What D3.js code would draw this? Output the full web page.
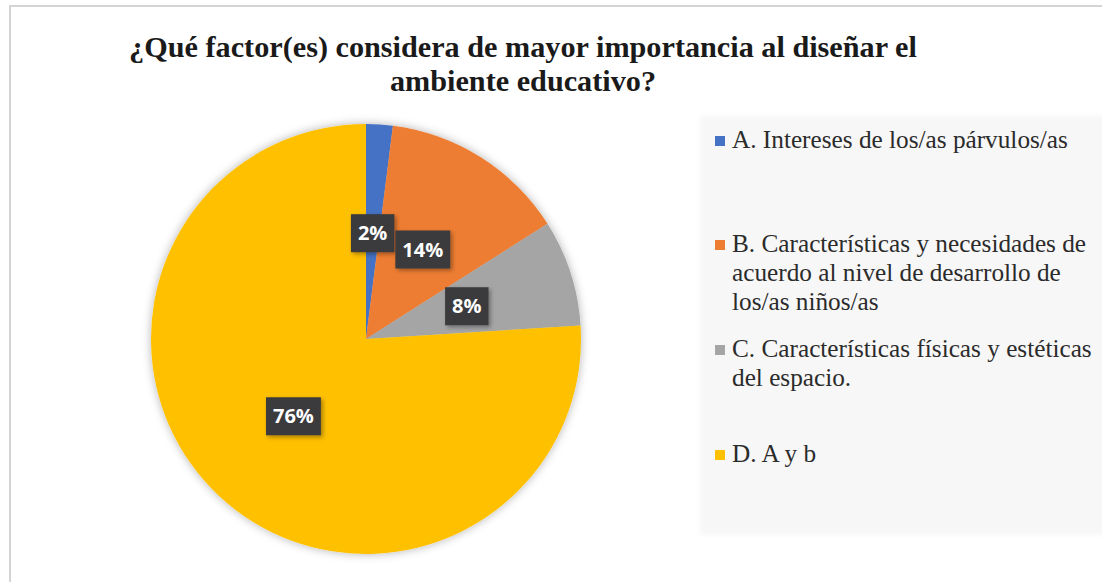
<!DOCTYPE html>
<html><head><meta charset="utf-8">
<script src="https://cdn.jsdelivr.net/npm/d3@7"></script>
<style>body{margin:0;background:#fff}svg{display:block}
.serif{font-family:"Liberation Serif","DejaVu Serif","Times New Roman",serif}</style>
</head><body>
<svg id="chart" width="1102" height="582"></svg>
<script>
const categories = ["A. Intereses de los/as párvulos/as",
  "B. Características y necesidades de acuerdo al nivel de desarrollo de los/as niños/as",
  "C. Características físicas y estéticas del espacio.",
  "D. A y b"];
const legendLines = [
  ["A. Intereses de los/as párvulos/as"],
  ["B. Características y necesidades de", "acuerdo al nivel de desarrollo de", "los/as niños/as"],
  ["C. Características físicas y estéticas", "del espacio."],
  ["D. A y b"]];
const values = [2, 14, 8, 76];
const colors = ["#4472C4", "#ED7D31", "#A5A5A5", "#FFC000"];
const titleLines = ["¿Qué factor(es) considera de mayor importancia al diseñar el", "ambiente educativo?"];

const svg = d3.select("#chart");
const defs = svg.append("defs");
const glow = defs.append("filter").attr("id","glow").attr("x","-20%").attr("y","-20%").attr("width","140%").attr("height","140%");
glow.append("feDropShadow").attr("dx",0).attr("dy",0).attr("stdDeviation",5).attr("flood-color","#000").attr("flood-opacity",0.3);
const lblShadow = defs.append("filter").attr("id","lblsh").attr("x","-30%").attr("y","-30%").attr("width","160%").attr("height","160%");
lblShadow.append("feDropShadow").attr("dx",2).attr("dy",2).attr("stdDeviation",2).attr("flood-color","#000").attr("flood-opacity",0.35);
const soft = defs.append("filter").attr("id","soft").attr("x","-5%").attr("y","-5%").attr("width","110%").attr("height","110%");
soft.append("feGaussianBlur").attr("stdDeviation",2);

// outer chart border
svg.append("rect").attr("x",10).attr("y",6).attr("width",1120).attr("height",600)
  .attr("fill","#fff").attr("stroke","#d4d4d4").attr("stroke-width",2);

// title
const title = svg.append("g");
title.selectAll("text").data(titleLines).join("text")
  .attr("class","serif")
  .attr("x",523).attr("y",(d,i)=>57 + i*34)
  .attr("text-anchor","middle")
  .attr("font-weight","bold").attr("font-size",27).attr("fill","#1a1a1a")
  .text(d=>d);
(function(){
  const t = title.select("text").node();
  const w = t.getComputedTextLength();
  const fs = 27*788/w;
  title.selectAll("text").attr("font-size",fs);
})();

// legend box
svg.append("rect").attr("x",700).attr("y",116).attr("width",420).attr("height",419)
  .attr("fill","#f7f7f7").attr("filter","url(#soft)");

// pie
const cx = 366, cy = 339, R = 215;
const pie = d3.pie().sort(null).value(d=>d);
const arcs = pie(values);
const arc = d3.arc().innerRadius(0).outerRadius(R);
const lblArc = d3.arc().innerRadius(106).outerRadius(106);
const g = svg.append("g").attr("transform",`translate(${cx},${cy})`);
g.append("g").attr("filter","url(#glow)").selectAll("path").data(arcs).join("path")
  .attr("d",arc).attr("fill",(d,i)=>colors[i]);

const total = d3.sum(values);
const fmt = d3.format(".0%");
const lbl = g.selectAll("g.lbl").data(arcs).join("g").attr("class","lbl")
  .attr("transform",d=>`translate(${lblArc.centroid(d)})`);
lbl.append("rect").attr("fill","#3a3a3c").attr("filter","url(#lblsh)");
lbl.append("text").attr("text-anchor","middle").attr("dy","0.36em")
  .attr("font-family","'Open Sans',sans-serif").attr("font-weight","bold")
  .attr("font-size",20).attr("fill","#fff")
  .text(d=>fmt(d.data/total));
lbl.each(function(){
  const t = d3.select(this).select("text").node();
  const w = t.getComputedTextLength();
  d3.select(this).select("rect").attr("x",-w/2-7).attr("y",-19).attr("width",w+14).attr("height",38);
});

// legend
const legendY = [141, 245, 350, 455];
const lg = svg.append("g");
const items = lg.selectAll("g").data(legendLines).join("g");
items.append("rect").attr("x",715).attr("y",(d,i)=>legendY[i]-5).attr("width",10).attr("height",10)
  .attr("fill",(d,i)=>colors[i]);
items.each(function(lines,i){
  d3.select(this).selectAll("text").data(lines).join("text")
    .attr("class","serif")
    .attr("x",732).attr("y",(d,j)=>legendY[i]+6.5+j*29)
    .attr("font-size",20).attr("fill","#2b2b2b")
    .text(d=>d);
});
(function(){
  const t = items.filter((d,i)=>i===0).select("text").node();
  const w = t.getComputedTextLength();
  items.selectAll("text").attr("font-size",20*336/w);
})();
</script>
</body></html>
